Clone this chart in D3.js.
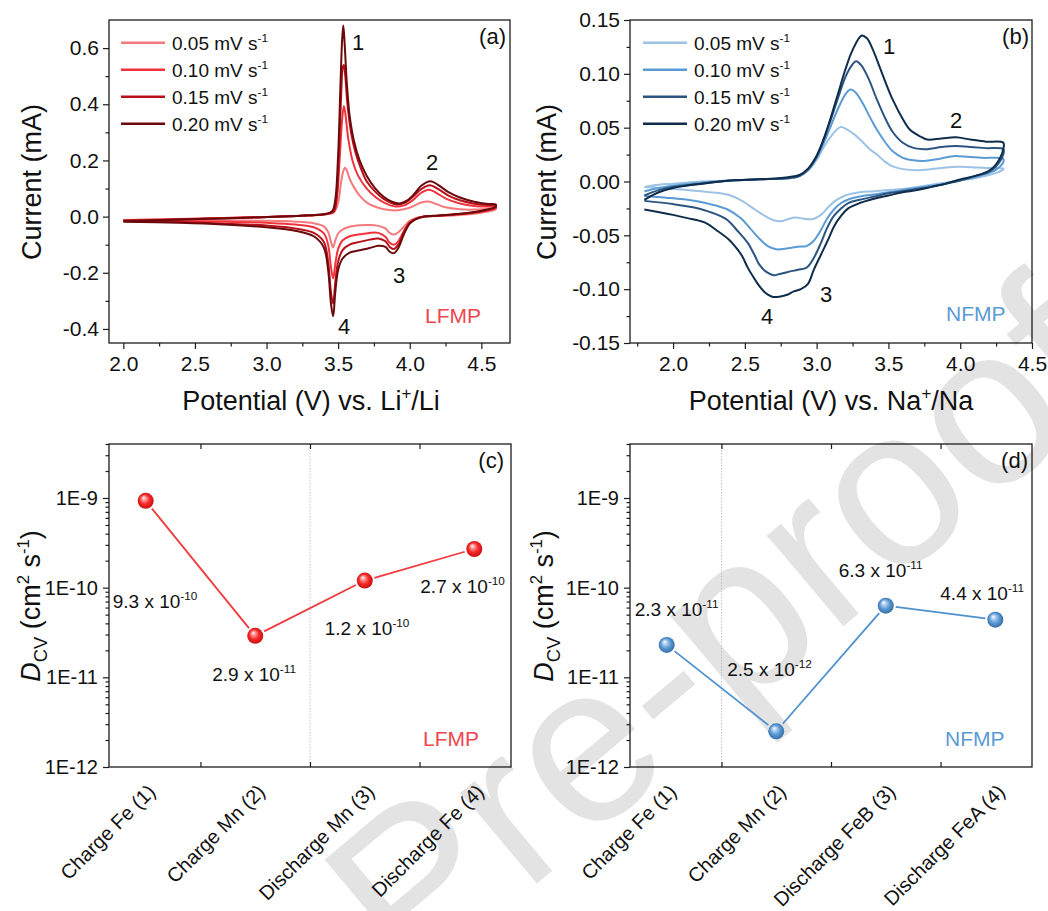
<!DOCTYPE html>
<html>
<head>
<meta charset="utf-8">
<script src="https://cdn.jsdelivr.net/npm/d3@7"></script>
<style>
  body { margin: 0; background: #fff; }
  svg text { font-family: "Liberation Sans", Arial, Helvetica, sans-serif; fill: #111; }
</style>
</head>
<body>
<svg id="fig" width="1048" height="911"></svg>
<script>
// ---------------- data ----------------
const scanRates = ["0.05", "0.10", "0.15", "0.20"];

// LFMP cyclic voltammograms: [potential V, current mA], anodic sweep then cathodic sweep
const lfmp005 = [
  [2.0,-0.012],[2.3,-0.009],[2.6,-0.006],[2.9,-0.002],[3.1,0.0],[3.3,0.004],[3.42,0.008],[3.47,0.015],
  [3.5,0.05],[3.52,0.12],[3.535,0.16],[3.548,0.174],[3.56,0.165],[3.58,0.135],[3.61,0.105],[3.65,0.075],
  [3.7,0.05],[3.76,0.035],[3.82,0.026],[3.9,0.022],[3.96,0.026],[4.02,0.036],[4.08,0.05],[4.13,0.054],
  [4.18,0.046],[4.25,0.033],[4.35,0.026],[4.45,0.025],[4.55,0.028],[4.6,0.03],
  [4.6,0.026],[4.5,0.014],[4.35,0.006],[4.2,0.002],[4.1,0.0],[4.04,-0.006],[4.0,-0.015],[3.96,-0.035],
  [3.92,-0.056],[3.89,-0.064],[3.86,-0.058],[3.83,-0.042],[3.78,-0.033],[3.72,-0.03],[3.65,-0.031],
  [3.58,-0.036],[3.53,-0.046],[3.5,-0.06],[3.48,-0.085],[3.465,-0.11],[3.45,-0.09],[3.43,-0.055],
  [3.4,-0.035],[3.33,-0.024],[3.2,-0.018],[3.0,-0.015],[2.7,-0.014],[2.4,-0.013],[2.0,-0.012]
];
const lfmp010 = [
  [2.0,-0.013],[2.3,-0.01],[2.6,-0.007],[2.9,-0.002],[3.1,0.0],[3.3,0.004],[3.42,0.009],[3.47,0.018],
  [3.49,0.06],[3.51,0.2],[3.527,0.34],[3.54,0.394],[3.552,0.36],[3.57,0.28],[3.6,0.2],[3.64,0.145],
  [3.7,0.1],[3.76,0.07],[3.82,0.05],[3.9,0.036],[3.96,0.04],[4.02,0.058],[4.08,0.085],[4.135,0.096],
  [4.19,0.083],[4.26,0.062],[4.35,0.047],[4.45,0.038],[4.55,0.036],[4.6,0.036],
  [4.6,0.03],[4.5,0.017],[4.35,0.008],[4.2,0.003],[4.1,0.0],[4.04,-0.008],[4.0,-0.02],[3.96,-0.05],
  [3.92,-0.088],[3.89,-0.1],[3.86,-0.093],[3.83,-0.072],[3.78,-0.058],[3.72,-0.058],[3.65,-0.063],
  [3.58,-0.07],[3.53,-0.085],[3.5,-0.115],[3.48,-0.17],[3.465,-0.22],[3.45,-0.18],[3.43,-0.1],
  [3.4,-0.06],[3.33,-0.038],[3.2,-0.028],[3.0,-0.022],[2.7,-0.018],[2.4,-0.016],[2.0,-0.014]
];
const lfmp015 = [
  [2.0,-0.015],[2.3,-0.011],[2.6,-0.007],[2.9,-0.003],[3.1,0.0],[3.3,0.005],[3.42,0.01],[3.47,0.02],
  [3.49,0.07],[3.505,0.22],[3.52,0.42],[3.532,0.53],[3.54,0.54],[3.55,0.5],[3.565,0.4],[3.59,0.3],
  [3.62,0.23],[3.66,0.17],[3.7,0.125],[3.76,0.088],[3.82,0.062],[3.9,0.044],[3.96,0.048],[4.02,0.07],
  [4.08,0.098],[4.14,0.112],[4.2,0.098],[4.27,0.075],[4.35,0.058],[4.45,0.046],[4.55,0.041],[4.6,0.04],
  [4.6,0.033],[4.5,0.019],[4.35,0.009],[4.2,0.003],[4.1,0.0],[4.04,-0.009],[4.0,-0.022],[3.96,-0.055],
  [3.92,-0.1],[3.89,-0.115],[3.86,-0.108],[3.83,-0.088],[3.78,-0.078],[3.72,-0.082],[3.65,-0.09],
  [3.58,-0.1],[3.53,-0.12],[3.5,-0.16],[3.48,-0.235],[3.465,-0.31],[3.45,-0.27],[3.43,-0.16],
  [3.4,-0.09],[3.33,-0.058],[3.2,-0.042],[3.0,-0.032],[2.7,-0.025],[2.4,-0.02],[2.0,-0.016]
];
const lfmp020 = [
  [2.0,-0.016],[2.3,-0.012],[2.6,-0.008],[2.9,-0.003],[3.1,0.0],[3.3,0.005],[3.42,0.01],[3.46,0.02],
  [3.48,0.06],[3.5,0.22],[3.515,0.45],[3.528,0.63],[3.536,0.68],[3.545,0.62],[3.56,0.48],[3.58,0.36],
  [3.61,0.27],[3.65,0.2],[3.7,0.145],[3.76,0.1],[3.82,0.07],[3.88,0.052],[3.93,0.047],[3.98,0.057],
  [4.03,0.08],[4.08,0.11],[4.145,0.126],[4.2,0.112],[4.27,0.087],[4.35,0.068],[4.45,0.053],[4.55,0.045],[4.6,0.043],
  [4.6,0.036],[4.5,0.021],[4.35,0.01],[4.2,0.004],[4.1,0.0],[4.04,-0.01],[4.0,-0.025],[3.96,-0.062],
  [3.92,-0.112],[3.89,-0.13],[3.86,-0.125],[3.83,-0.108],[3.78,-0.104],[3.72,-0.112],[3.65,-0.12],
  [3.58,-0.128],[3.53,-0.15],[3.5,-0.19],[3.48,-0.27],[3.465,-0.355],[3.45,-0.31],[3.43,-0.19],
  [3.4,-0.11],[3.33,-0.07],[3.2,-0.05],[3.0,-0.038],[2.7,-0.028],[2.4,-0.022],[2.0,-0.018]
];

// NFMP cyclic voltammograms: [potential V, current mA]
const nfmp005 = [
  [1.8,-0.005],[1.9,-0.003],[2.0,-0.002],[2.2,0.0],[2.4,0.001],[2.6,0.002],[2.8,0.003],[2.88,0.005],
  [2.94,0.01],[3.0,0.02],[3.05,0.032],[3.1,0.042],[3.165,0.0505],[3.21,0.0485],[3.26,0.044],[3.31,0.038],
  [3.37,0.03],[3.42,0.025],[3.48,0.018],[3.53,0.014],[3.6,0.0115],[3.7,0.0105],[3.8,0.0115],[3.9,0.013],
  [3.98,0.0138],[4.08,0.0132],[4.18,0.0125],[4.3,0.012],
  [4.3,0.011],[4.25,0.008],[4.2,0.006],[4.1,0.003],[4.0,0.001],[3.9,-0.001],[3.8,-0.003],[3.7,-0.005],
  [3.6,-0.007],[3.5,-0.008],[3.4,-0.009],[3.3,-0.01],[3.2,-0.013],[3.13,-0.018],[3.08,-0.024],[3.03,-0.031],
  [2.97,-0.035],[2.91,-0.0345],[2.85,-0.0335],[2.8,-0.035],[2.75,-0.037],[2.7,-0.036],[2.64,-0.032],
  [2.57,-0.026],[2.48,-0.018],[2.4,-0.013],[2.3,-0.0105],[2.1,-0.008],[1.9,-0.006],[1.8,-0.005]
];
const nfmp010 = [
  [1.8,-0.009],[1.9,-0.006],[2.0,-0.004],[2.2,-0.001],[2.4,0.001],[2.6,0.002],[2.8,0.003],[2.88,0.005],
  [2.94,0.011],[3.0,0.022],[3.05,0.036],[3.1,0.052],[3.15,0.068],[3.2,0.081],[3.235,0.0855],[3.27,0.083],
  [3.32,0.073],[3.37,0.06],[3.42,0.048],[3.48,0.036],[3.53,0.028],[3.6,0.022],[3.66,0.02],[3.75,0.019],
  [3.85,0.021],[3.95,0.0235],[4.05,0.023],[4.15,0.022],[4.3,0.021],
  [4.3,0.018],[4.25,0.011],[4.2,0.008],[4.1,0.004],[4.0,0.001],[3.9,-0.002],[3.8,-0.004],[3.7,-0.006],
  [3.6,-0.008],[3.5,-0.01],[3.4,-0.012],[3.3,-0.014],[3.22,-0.0167],[3.17,-0.02],[3.12,-0.026],
  [3.07,-0.035],[3.03,-0.045],[2.98,-0.055],[2.93,-0.06],[2.87,-0.0605],[2.8,-0.062],[2.72,-0.063],
  [2.66,-0.06],[2.6,-0.053],[2.54,-0.044],[2.47,-0.034],[2.38,-0.026],[2.26,-0.021],[2.1,-0.017],
  [1.95,-0.015],[1.8,-0.0135]
];
const nfmp015 = [
  [1.8,-0.013],[1.9,-0.008],[2.0,-0.005],[2.2,-0.002],[2.4,0.001],[2.6,0.002],[2.8,0.003],[2.88,0.005],
  [2.94,0.011],[3.0,0.023],[3.05,0.039],[3.1,0.058],[3.15,0.078],[3.2,0.097],[3.24,0.107],[3.275,0.1117],
  [3.31,0.108],[3.36,0.096],[3.42,0.076],[3.48,0.058],[3.53,0.046],[3.6,0.036],[3.68,0.031],[3.77,0.03],
  [3.87,0.032],[3.97,0.033],[4.07,0.032],[4.18,0.031],[4.3,0.03],
  [4.3,0.025],[4.25,0.014],[4.2,0.009],[4.1,0.005],[4.0,0.001],[3.9,-0.002],[3.8,-0.005],[3.7,-0.007],
  [3.6,-0.009],[3.5,-0.011],[3.4,-0.014],[3.3,-0.017],[3.22,-0.02],[3.17,-0.025],[3.12,-0.032],
  [3.07,-0.044],[3.03,-0.057],[2.98,-0.071],[2.93,-0.08],[2.87,-0.082],[2.8,-0.084],[2.74,-0.086],
  [2.7,-0.087],[2.65,-0.084],[2.6,-0.077],[2.57,-0.069],[2.52,-0.057],[2.45,-0.046],[2.37,-0.035],
  [2.25,-0.028],[2.14,-0.024],[2.0,-0.021],[1.8,-0.018]
];
const nfmp020 = [
  [1.8,-0.017],[1.9,-0.01],[2.0,-0.006],[2.2,-0.002],[2.4,0.001],[2.6,0.002],[2.8,0.004],[2.88,0.006],
  [2.94,0.012],[3.0,0.024],[3.05,0.04],[3.1,0.06],[3.15,0.082],[3.2,0.104],[3.25,0.122],[3.314,0.1356],
  [3.35,0.133],[3.39,0.123],[3.42,0.113],[3.48,0.092],[3.53,0.076],[3.6,0.058],[3.65,0.048],[3.72,0.042],
  [3.77,0.039],[3.87,0.04],[3.97,0.041],[4.07,0.039],[4.18,0.037],[4.3,0.036],
  [4.3,0.03],[4.25,0.016],[4.2,0.01],[4.1,0.005],[4.0,0.002],[3.9,-0.002],[3.8,-0.005],[3.7,-0.008],
  [3.6,-0.01],[3.5,-0.013],[3.4,-0.016],[3.3,-0.02],[3.22,-0.025],[3.17,-0.032],[3.12,-0.042],
  [3.08,-0.054],[3.03,-0.068],[2.98,-0.082],[2.94,-0.095],[2.89,-0.1],[2.84,-0.102],[2.8,-0.105],
  [2.74,-0.107],[2.69,-0.107],[2.64,-0.103],[2.6,-0.097],[2.57,-0.091],[2.52,-0.08],[2.48,-0.069],
  [2.43,-0.06],[2.39,-0.054],[2.3,-0.045],[2.22,-0.038],[2.1,-0.034],[2.0,-0.031],[1.8,-0.026]
];

// Diffusion coefficients from CV (cm^2 s^-1)
const lfmpSteps = ["Charge Fe (1)", "Charge Mn (2)", "Discharge Mn (3)", "Discharge Fe (4)"];
const lfmpD = [9.3e-10, 2.9e-11, 1.2e-10, 2.7e-10];
const nfmpSteps = ["Charge Fe (1)", "Charge Mn (2)", "Discharge FeB (3)", "Discharge FeA (4)"];
const nfmpD = [2.3e-11, 2.5e-12, 6.3e-11, 4.4e-11];

// Tick values
const cvTicksX = [2.0, 2.5, 3.0, 3.5, 4.0, 4.5];
const cvMinorX = [2.25, 2.75, 3.25, 3.75, 4.25];
const cvMinorXb = [1.75, 2.25, 2.75, 3.25, 3.75, 4.25];
const lfmpTicksY = [-0.4, -0.2, 0.0, 0.2, 0.4, 0.6];
const lfmpMinorY = [-0.3, -0.1, 0.1, 0.3, 0.5];
const nfmpTicksY = [-0.15, -0.10, -0.05, 0.00, 0.05, 0.10, 0.15];
const nfmpMinorY = [-0.125, -0.075, -0.025, 0.025, 0.075, 0.125];
const logTicks = [1e-12, 1e-11, 1e-10, 1e-9];

// ---------------- styles ----------------
const lfmpColors = ["#f57a7e", "#f2333d", "#b8101a", "#6a0a0c"];
const nfmpColors = ["#9cc2e6", "#5b9bd5", "#2b5580", "#0f2d4b"];
const FONT = '"Liberation Sans", Arial, Helvetica, sans-serif';
const AXIS = "#1c1c1c";

const svg = d3.select("#fig");

// defs: glossy sphere markers
const defs = svg.append("defs");
function sphereGradient(id, stops) {
  const g = defs.append("radialGradient").attr("id", id)
    .attr("cx", "50%").attr("cy", "50%").attr("r", "55%")
    .attr("fx", "36%").attr("fy", "30%");
  stops.forEach(([o, c]) => g.append("stop").attr("offset", o).attr("stop-color", c));
}
sphereGradient("sphRed", [["0%", "#ffffff"], ["22%", "#ff9a9a"], ["55%", "#f52a2a"], ["100%", "#c40c0c"]]);
sphereGradient("sphBlue", [["0%", "#ffffff"], ["22%", "#b4d3f0"], ["55%", "#5d9bd6"], ["100%", "#30679f"]]);

// background watermark
svg.append("text")
  .attr("transform", "translate(410,990) rotate(-40)")
  .attr("font-size", 225)
  .style("fill", "#e3e3e3")
  .text("Pre-proofs");

// ---------------- helpers ----------------
function supText(sel, parts, size) {
  // parts: array of [string, 'n' | 'sup' | 'sub' | 'i']
  let shift = 0;
  parts.forEach(([s, kind]) => {
    const t = sel.append("tspan").text(s);
    let target = 0, fs = size;
    if (kind === "sup") { target = -0.42 * size; fs = size * 0.62; }
    if (kind === "sub") { target = 0.25 * size; fs = size * 0.68; }
    if (kind === "i") t.attr("font-style", "italic");
    t.attr("font-size", fs);
    if (target !== shift) { t.attr("dy", target - shift); shift = target; }
  });
  return sel;
}

function frame(x, y) {
  svg.append("rect")
    .attr("x", x.range()[0]).attr("y", y.range()[1])
    .attr("width", x.range()[1] - x.range()[0])
    .attr("height", y.range()[0] - y.range()[1])
    .attr("fill", "none").attr("stroke", AXIS).attr("stroke-width", 1.3);
}

function styleAxis(g, size) {
  g.attr("color", AXIS).attr("font-family", FONT).attr("font-size", size);
  g.select(".domain").remove();
  g.selectAll(".tick line").attr("stroke-width", 1.2);
  g.selectAll(".tick text").style("fill", "#111");
}

function cvAxes(x, y, ticksY, minorY, minorX, fmtY) {
  frame(x, y);
  const bottom = y.range()[0], left = x.range()[0];
  styleAxis(svg.append("g").attr("transform", `translate(0,${bottom})`)
    .call(d3.axisBottom(x).tickValues(cvTicksX).tickSize(6).tickPadding(7)
      .tickFormat(d => d.toFixed(1))), 21);
  styleAxis(svg.append("g").attr("transform", `translate(0,${bottom})`)
    .call(d3.axisBottom(x).tickValues(minorX).tickSize(3.5).tickFormat("")), 21);
  styleAxis(svg.append("g").attr("transform", `translate(${left},0)`)
    .call(d3.axisLeft(y).tickValues(ticksY).tickSize(6).tickPadding(4).tickFormat(fmtY)), 21);
  styleAxis(svg.append("g").attr("transform", `translate(${left},0)`)
    .call(d3.axisLeft(y).tickValues(minorY).tickSize(3.5).tickFormat("")), 21);
}

function cvCurves(x, y, series, colors) {
  const line = d3.line().x(d => x(d[0])).y(d => y(d[1]))
    .curve(d3.curveCatmullRom.alpha(0.5));
  series.forEach((s, i) => {
    svg.append("path").attr("d", line(s)).attr("fill", "none")
      .attr("stroke", colors[i]).attr("stroke-width", 2).attr("stroke-linejoin", "round");
  });
}

function legend(x0, y0, colors) {
  scanRates.forEach((r, i) => {
    const yy = y0 + i * 27;
    svg.append("line").attr("x1", x0).attr("x2", x0 + 44).attr("y1", yy).attr("y2", yy)
      .attr("stroke", colors[i]).attr("stroke-width", 2.4);
    supText(svg.append("text").attr("x", x0 + 51).attr("y", yy + 7),
      [[r + " mV s", "n"], ["-1", "sup"]], 19);
  });
}

function label(txt, x, y, size, anchor, color) {
  svg.append("text").attr("x", x).attr("y", y).attr("font-size", size)
    .attr("text-anchor", anchor || "start").style("fill", color || "#111").text(txt);
}

// ---------------- (a) LFMP CV ----------------
const xA = d3.scaleLinear([1.9, 4.7], [109, 510]);
const yA = d3.scaleLinear([-0.45, 0.70], [343, 20]);
cvCurves(xA, yA, [lfmp005, lfmp010, lfmp015, lfmp020], lfmpColors);
cvAxes(xA, yA, lfmpTicksY, lfmpMinorY, cvMinorX, d => d.toFixed(1));
legend(121, 42.7, lfmpColors);
label("1", 358, 50, 22, "middle");
label("2", 432, 170, 22, "middle");
label("3", 399, 283, 22, "middle");
label("4", 344, 334, 22, "middle");
label("(a)", 506, 44, 22, "end");
label("LFMP", 425, 322.5, 21, "start", "#f0464f");
supText(svg.append("text").attr("x", 311).attr("y", 410).attr("text-anchor", "middle"),
  [["Potential (V) vs. Li", "n"], ["+", "sup"], ["/Li", "n"]], 27);
svg.append("text").attr("transform", "translate(41,182) rotate(-90)")
  .attr("text-anchor", "middle").attr("font-size", 27).text("Current (mA)");

// ---------------- (b) NFMP CV ----------------
const xB = d3.scaleLinear([1.7, 4.5], [630, 1032]);
const yB = d3.scaleLinear([-0.15, 0.15], [343, 20]);
cvCurves(xB, yB, [nfmp005, nfmp010, nfmp015, nfmp020], nfmpColors);
cvAxes(xB, yB, nfmpTicksY, nfmpMinorY, cvMinorXb, d => d.toFixed(2));
legend(643, 42.7, nfmpColors);
label("1", 889, 54, 22, "middle");
label("2", 956, 128, 22, "middle");
label("3", 826, 302, 22, "middle");
label("4", 767, 324, 22, "middle");
label("(b)", 1029, 44, 22, "end");
label("NFMP", 946, 320.5, 21, "start", "#5b9bd5");
supText(svg.append("text").attr("x", 831).attr("y", 410).attr("text-anchor", "middle"),
  [["Potential (V) vs. Na", "n"], ["+", "sup"], ["/Na", "n"]], 27);
svg.append("text").attr("transform", "translate(556,182) rotate(-90)")
  .attr("text-anchor", "middle").attr("font-size", 27).text("Current (mA)");

// ---------------- (c), (d) diffusion coefficients ----------------
function diffPanel(x, y, steps, values, cfg) {
  const top = y.range()[1], bottom = y.range()[0], left = x.range()[0];
  // charge / discharge divider
  svg.append("line").attr("x1", x(cfg.divider)).attr("x2", x(cfg.divider))
    .attr("y1", top).attr("y2", bottom)
    .attr("stroke", "#b5b5b5").attr("stroke-width", 0.8).attr("stroke-dasharray", "1.5,1.5");
  frame(x, y);
  const bounds = [1.5, 2.5, 3.5];
  styleAxis(svg.append("g").attr("transform", `translate(0,${bottom})`)
    .call(d3.axisBottom(x).tickValues(bounds).tickSize(-5).tickFormat("")), 20);
  styleAxis(svg.append("g").attr("transform", `translate(0,${top})`)
    .call(d3.axisTop(x).tickValues(bounds).tickSize(-5).tickFormat("")), 20);
  styleAxis(svg.append("g").attr("transform", `translate(${left},0)`)
    .call(d3.axisLeft(y).tickValues(logTicks).tickSize(6).tickPadding(5)
      .tickFormat(d => "1E" + Math.round(Math.log10(d)))), 20);
  const minors = [];
  for (let e = -12; e <= -9; e++) for (let m = 2; m <= 9; m++) {
    const v = m * Math.pow(10, e);
    if (v <= y.domain()[1]) minors.push(v);
  }
  styleAxis(svg.append("g").attr("transform", `translate(${left},0)`)
    .call(d3.axisLeft(y).tickValues(minors).tickSize(3.5).tickFormat("")), 20);

  const pts = values.map((v, i) => [x(i + 1), y(v)]);
  // connecting segments, broken around the markers
  const gap = 10;
  for (let i = 0; i < pts.length - 1; i++) {
    const [x1, y1] = pts[i], [x2, y2] = pts[i + 1];
    const L = Math.hypot(x2 - x1, y2 - y1), ux = (x2 - x1) / L, uy = (y2 - y1) / L;
    svg.append("line")
      .attr("x1", x1 + ux * gap).attr("y1", y1 + uy * gap)
      .attr("x2", x2 - ux * gap).attr("y2", y2 - uy * gap)
      .attr("stroke", cfg.lineColor).attr("stroke-width", 1.8);
  }
  pts.forEach(([px, py]) => svg.append("circle").attr("cx", px).attr("cy", py).attr("r", 8)
    .attr("fill", `url(#${cfg.grad})`));

  // value labels: mantissa x 10^exponent
  values.forEach((v, i) => {
    const e = Math.floor(Math.log10(v) + 1e-9);
    const m = (v / Math.pow(10, e)).toFixed(1);
    const [dx, dy] = cfg.offsets[i];
    supText(svg.append("text").attr("x", pts[i][0] + dx).attr("y", pts[i][1] + dy),
      [[m + " x 10", "n"], [String(e), "sup"]], 19);
  });

  // step names
  steps.forEach((s, i) => {
    svg.append("text").attr("transform", `translate(${x(i + 1) + 11},793) rotate(-45)`)
      .attr("text-anchor", "end").attr("font-size", 20).text(s);
  });

  label(cfg.tag, cfg.tagX, top + 24, 22, "end");
  label(cfg.name, cfg.nameX, bottom - 21, 21, "start", cfg.nameColor);
  supText(svg.append("text").attr("transform", `translate(${cfg.titleX},606) rotate(-90)`)
    .attr("text-anchor", "middle"),
    [["D", "i"], ["CV", "sub"], [" (cm", "n"], ["2", "sup"], [" s", "n"], ["-1", "sup"], [")", "n"]], 27);
}

const xC = d3.scaleLinear([0.665, 4.335], [109, 511]);
const yC = d3.scaleLog([1e-12, 4e-9], [767, 444]);
diffPanel(xC, yC, lfmpSteps, lfmpD, {
  divider: 2.5, lineColor: "#f03a3e", grad: "sphRed",
  offsets: [[-33, 107], [-43, 45], [-40, 54], [-54, 44]],
  tag: "(c)", tagX: 504, name: "LFMP", nameX: 423, nameColor: "#f0464f", titleX: 40
});

const xD = d3.scaleLinear([0.665, 4.335], [630, 1032]);
const yD = d3.scaleLog([1e-12, 4e-9], [767, 444]);
diffPanel(xD, yD, nfmpSteps, nfmpD, {
  divider: 1.5, lineColor: "#4f90cf", grad: "sphBlue",
  offsets: [[-32, -29], [-49, -55], [-47, -29], [-55, -20]],
  tag: "(d)", tagX: 1028, name: "NFMP", nameX: 945, nameColor: "#5b9bd5", titleX: 553
});
</script>
</body>
</html>
